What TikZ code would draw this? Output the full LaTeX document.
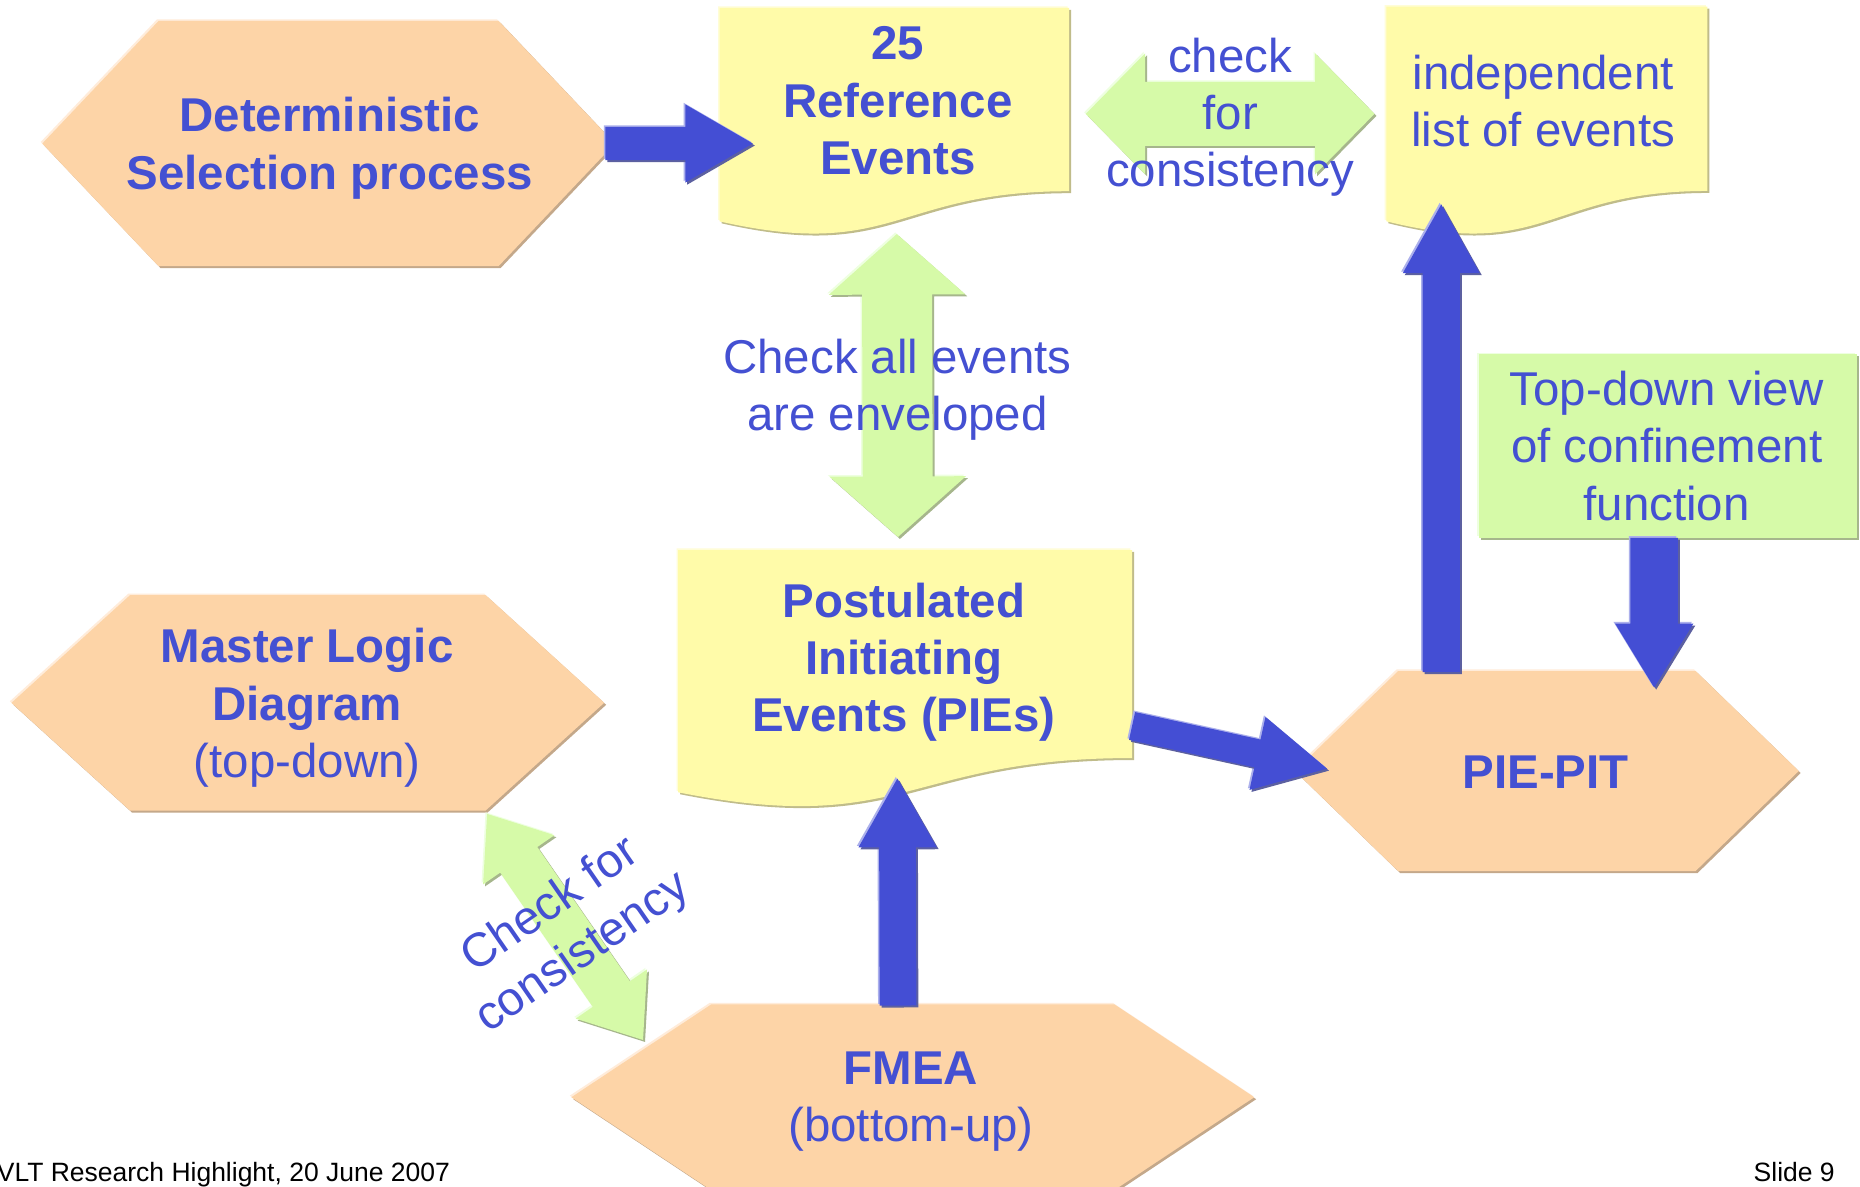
\documentclass[tikz,border=0pt]{standalone}
\usepackage{fontspec}
\setmainfont{Liberation Sans}
\usetikzlibrary{calc,fit}

\definecolor{peach}{RGB}{253,212,167}
\definecolor{peachhi}{RGB}{255,236,218}
\definecolor{peachsh}{RGB}{196,168,138}
\definecolor{docy}{RGB}{255,251,169}
\definecolor{docyhi}{RGB}{255,253,215}
\definecolor{docysh}{RGB}{192,188,138}
\definecolor{lgreen}{RGB}{214,250,168}
\definecolor{lgreenhi}{RGB}{238,255,224}
\definecolor{lgreensh}{RGB}{166,182,140}
\definecolor{ablue}{RGB}{68,78,212}
\definecolor{abluehi}{RGB}{172,176,236}
\definecolor{abluesh}{RGB}{92,96,160}
\definecolor{tblue}{RGB}{68,80,210}

\newcommand{\hexpath}[2]{($(#1.north west)+(#2,0)$) -- ($(#1.north east)+(-#2,0)$) -- (#1.east) -- ($(#1.south east)+(-#2,0)$) -- ($(#1.south west)+(#2,0)$) -- (#1.west) -- cycle}
\newcommand{\docpath}[1]{(#1.north west) -- (#1.north east) -- ($(#1.north east)!0.802!(#1.south east)$) .. controls ($(#1.north)!0.802!(#1.south)$) and ($(#1.north)!1.1075!(#1.south)$) .. ($(#1.north west)!0.934!(#1.south west)$) -- cycle}
\newcommand{\boxpath}[1]{(#1.north west) rectangle (#1.south east)}

% single block arrow: base, tail, tip, half shaft, half head
\newcommand{\sarrowpath}[5]{($(#2)!{#4*0.6pt}!90:(#3)$) -- ($(#1)!{#4*0.6pt}!90:(#3)$) -- ($(#1)!{#5*0.6pt}!90:(#3)$) -- (#3) -- ($(#1)!{#5*0.6pt}!-90:(#3)$) -- ($(#1)!{#4*0.6pt}!-90:(#3)$) -- ($(#2)!{#4*0.6pt}!-90:(#3)$) -- cycle}
% double block arrow: baseA, baseB, tipA, tipB, half shaft, half head
\newcommand{\darrowpath}[6]{(#3) -- ($(#1)!{#6*0.6pt}!90:(#4)$) -- ($(#1)!{#5*0.6pt}!90:(#4)$) -- ($(#2)!{#5*0.6pt}!-90:(#3)$) -- ($(#2)!{#6*0.6pt}!-90:(#3)$) -- (#4) -- ($(#2)!{#6*0.6pt}!90:(#3)$) -- ($(#2)!{#5*0.6pt}!90:(#3)$) -- ($(#1)!{#5*0.6pt}!-90:(#4)$) -- ($(#1)!{#6*0.6pt}!-90:(#4)$) -- cycle}

\newcommand{\myblockarrow}[7]{%
  \coordinate (#1-base) at ($(#3)!{#6*0.6pt}!(#2)$);
  \fill[#7hi, transform canvas={xshift=-0.8pt,yshift=0.8pt}] \sarrowpath{#1-base}{#2}{#3}{#4}{#5};
  \fill[#7sh, transform canvas={xshift=1pt,yshift=-1pt}] \sarrowpath{#1-base}{#2}{#3}{#4}{#5};
  \fill[#7] \sarrowpath{#1-base}{#2}{#3}{#4}{#5};
}
\newcommand{\mydblarrow}[7]{%
  \coordinate (#1-ba) at ($(#2)!{#6*0.6pt}!(#3)$);
  \coordinate (#1-bb) at ($(#3)!{#6*0.6pt}!(#2)$);
  \fill[#7hi, transform canvas={xshift=-0.8pt,yshift=0.8pt}] \darrowpath{#1-ba}{#1-bb}{#2}{#3}{#4}{#5};
  \fill[#7sh, transform canvas={xshift=1pt,yshift=-1pt}] \darrowpath{#1-ba}{#1-bb}{#2}{#3}{#4}{#5};
  \fill[#7] \darrowpath{#1-ba}{#1-bb}{#2}{#3}{#4}{#5};
}

\tikzset{
  bbox/.style={inner sep=0pt, draw=none},
  lbl/.style={text=tblue, align=center, inner sep=0pt,
    font=\fontsize{24}{29}\selectfont,
    execute at begin node=\strut, execute at end node=\strut},
  blbl/.style={lbl, font=\fontsize{24}{29}\selectfont\bfseries},
  foot/.style={text=black, inner sep=0pt, font=\fontsize{13.4}{16}\selectfont}
}

\begin{document}
\begin{tikzpicture}[x=0.6pt, y=-0.6pt]
\clip (0,0) rectangle (1568,1000);
\fill[white] (0,0) rectangle (1568,1000);

% bounding nodes of the shapes
\node[bbox, fit={(36,18) (518,224)}] (det) {};
\node[bbox, fit={(607,7) (901,199)}] (ref) {};
\node[bbox, fit={(1169,6) (1439,199)}] (ind) {};
\node[bbox, fit={(572,464) (954,682)}] (pie) {};
\node[bbox, fit={(1247,299) (1565,453)}] (chk) {};
\node[bbox, fit={(1092,566) (1516,734)}] (pit) {};
\node[bbox, fit={(10,502) (509,683)}] (mld) {};
\node[bbox, fit={(482,847) (1057,1003)}] (fmea) {};

% hexagons
\foreach \n/\d in {det/98, pit/87, mld/100, fmea/118}{
  \fill[peachhi, transform canvas={xshift=-0.8pt,yshift=0.8pt}] \hexpath{\n}{\d};
  \fill[peachsh, transform canvas={xshift=1pt,yshift=-1pt}] \hexpath{\n}{\d};
  \fill[peach] \hexpath{\n}{\d};
}
% documents
\foreach \n in {ref, ind, pie}{
  \fill[docyhi, transform canvas={xshift=-0.8pt,yshift=0.8pt}] \docpath{\n};
  \fill[docysh, transform canvas={xshift=1pt,yshift=-1pt}] \docpath{\n};
  \fill[docy] \docpath{\n};
}
% green box
\fill[lgreenhi, transform canvas={xshift=-0.8pt,yshift=0.8pt}] \boxpath{chk};
\fill[lgreensh, transform canvas={xshift=1pt,yshift=-1pt}] \boxpath{chk};
\fill[lgreen] \boxpath{chk};

% connector ends
\coordinate (a1t) at ($(det.east)+(-8,0)$);
\coordinate (a1h) at ($(ref.west)+(28,18)$);
\coordinate (a2t) at ($(pie.east)+(0,39)$);
\coordinate (a2h) at ($(pit.west)+(27,-2)$);
\coordinate (a3t) at ($(fmea.north)+(-12.5,1)$);
\coordinate (a3h) at ($(pie.south)+(-6.5,-26)$);
\coordinate (a4t) at ($(pit.north)+(-89,1)$);
\coordinate (a4h) at ($(ind.south)+(-89,-27)$);
\coordinate (a5t) at ($(chk.south)+(-11.5,0)$);
\coordinate (a5h) at ($(pit.north)+(90.5,14)$);
\coordinate (g1a) at ($(ref.east)+(14,-7)$);
\coordinate (g1b) at ($(ind.west)+(-10,-6.5)$);
\coordinate (g2a) at ($(ref.south)+(2,-2)$);
\coordinate (g2b) at ($(pie.north)+(-6,-11)$);
\coordinate (g3a) at ($(mld.south east)+(-98.7,2.8)$);
\coordinate (g3b) at ($(fmea.north west)+(60.4,30)$);

% blue arrows
\myblockarrow{a1}{a1t}{a1h}{14}{33}{57}{ablue}
\myblockarrow{a2}{a2t}{a2h}{12}{31.5}{60}{ablue}
\myblockarrow{a3}{a3t}{a3h}{15.5}{33}{58}{ablue}
\myblockarrow{a4}{a4t}{a4h}{15.75}{32.5}{58}{ablue}
\myblockarrow{a5}{a5t}{a5h}{20}{33}{54}{ablue}

% green double arrows
\mydblarrow{g1}{g1a}{g1b}{27}{51}{50}{lgreen}
\mydblarrow{g2}{g2a}{g2b}{29.5}{57.5}{51}{lgreen}
\mydblarrow{g3}{g3a}{g3b}{19}{36.5}{47}{lgreen}

% texts
\node[blbl] (det-t) at (278,128) {Deterministic\\Selection process};
\node[blbl] (ref-t) at (757,92) {25\\Reference\\Events};
\node[lbl] (ind-t) at (1301,92) {independent\\list of events};
\node[blbl] (pie-t) at (762,561.5) {Postulated\\Initiating\\Events (PIEs)};
\node[lbl] (chk-t) at (1405,383) {Top-down view\\of confinement\\function};
\node[blbl] (pit-t) at (1303,655) {PIE-PIT};
\node[lbl] (mld-t) at (259,600) {\textbf{Master Logic}\\\textbf{Diagram}\\(top-down)};
\node[lbl] (fmea-t) at (768,931.5) {\textbf{FMEA}\\(bottom-up)};
\node[lbl] (g1-t) at ($(g1a)!0.5!(g1b)+(0,6)$) {check\\for\\consistency};
\node[lbl] (g2-t) at ($(g2a)!0.5!(g2b)+(0,6.5)$) {Check all events\\are enveloped};
\node[lbl, rotate=34.6] (g3-t) at ($(g3a)!0.5!(g3b)+(3.5,5)$) {Check for\\consistency};

% footer
\node[foot, anchor=base west] (foot-l) at (-3,996) {VLT Research Highlight, 20 June 2007};
\node[foot, anchor=base east] (foot-r) at (1547,996) {Slide 9};
\end{tikzpicture}
\end{document}
